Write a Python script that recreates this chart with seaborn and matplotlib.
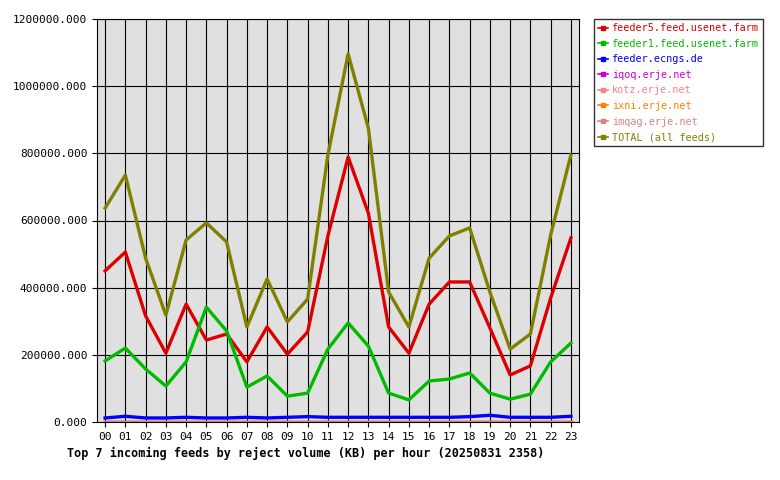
import matplotlib
matplotlib.use("Agg")
import matplotlib.pyplot as plt
import seaborn as sns
import pandas as pd
from matplotlib.ticker import FuncFormatter
from matplotlib.lines import Line2D

hours = [f"{h:02d}" for h in range(24)]
feeder5 = [450e3, 506e3, 316e3, 205e3, 351e3, 244e3, 262e3, 179e3, 283e3, 202e3, 268e3, 554e3,
           789e3, 622e3, 283e3, 205e3, 351e3, 417e3, 417e3, 280e3, 140e3, 167e3, 369e3, 548e3]
feeder1 = [182e3, 220e3, 158e3, 107e3, 179e3, 342e3, 271e3, 104e3, 137e3, 77e3, 86e3, 217e3,
           295e3, 226e3, 86e3, 66e3, 122e3, 128e3, 146e3, 86e3, 68e3, 83e3, 179e3, 235e3]
ecngs = [12e3, 17e3, 12e3, 12e3, 14e3, 12e3, 12e3, 14e3, 12e3, 14e3, 16e3, 14e3,
         14e3, 14e3, 14e3, 14e3, 14e3, 14e3, 16e3, 20e3, 14e3, 14e3, 14e3, 17e3]
iqoq = [1e3] * 24
kotz = [1e3] * 24
ixni = [1e3] * 24
imqag = [1e3] * 24
total = [637e3, 735e3, 488e3, 318e3, 542e3, 593e3, 536e3, 283e3, 426e3, 298e3, 366e3, 795e3,
         1096e3, 875e3, 387e3, 283e3, 488e3, 554e3, 578e3, 387e3, 217e3, 262e3, 557e3, 795e3]

names = ["feeder5.feed.usenet.farm", "feeder1.feed.usenet.farm", "feeder.ecngs.de",
         "iqoq.erje.net", "kotz.erje.net", "ixni.erje.net", "imqag.erje.net", "TOTAL (all feeds)"]
series = [feeder5, feeder1, ecngs, iqoq, kotz, ixni, imqag, total]
colors = ["#dd0000", "#00bb00", "#0000ff", "#cc00cc", "#ff8080", "#ff8000", "#e08080", "#808000"]

rows = []
for n, s in zip(names, series):
    for i, v in enumerate(s):
        rows.append({"hour": i, "feed": n, "kb": v})
df = pd.DataFrame(rows)

plt.rcParams["font.family"] = ["DejaVu Sans Mono"]
fig = plt.figure(figsize=(7.8, 4.8), dpi=100)
ax = fig.add_axes([97 / 780, 1 - 422 / 480, (579 - 97) / 780, (422 - 19) / 480])
ax.set_facecolor("#e0e0e0")

sns.lineplot(data=df, x="hour", y="kb", hue="feed", hue_order=names,
             palette=dict(zip(names, colors)), linewidth=2.4, ax=ax, legend=False)

ax.set_xlim(-0.4, 23.4)
ax.set_ylim(0, 1200000)
ax.set_xticks(range(24))
ax.set_xticklabels(hours, fontsize=8)
ax.set_yticks(range(0, 1200001, 200000))
ax.yaxis.set_major_formatter(FuncFormatter(lambda v, p: f"{v:.3f}"))
ax.tick_params(axis="y", labelsize=8)
ax.grid(True, color="black", linewidth=0.8)
ax.set_axisbelow(True)
ax.set_xlabel("")
ax.set_ylabel("")
for sp in ax.spines.values():
    sp.set_color("black")

handles = [Line2D([], [], color=c, linewidth=1.2, marker="s", markersize=2.5) for c in colors]
leg = fig.legend(handles, names, loc="upper left", bbox_to_anchor=(594 / 780, 1 - 19 / 480),
                 fontsize=7.3, frameon=True, fancybox=False, edgecolor="black",
                 handlelength=1.0, handletextpad=0.4, borderpad=0.4,
                 labelspacing=0.55, borderaxespad=0)
for t, c in zip(leg.get_texts(), colors):
    t.set_color(c)

fig.text(67 / 780, 1 - 453 / 480, "Top 7 incoming feeds by reject volume (KB) per hour (20250831 2358)",
         fontsize=8.5, fontweight="bold", va="center")
fig.savefig("out.png", dpi=100)
